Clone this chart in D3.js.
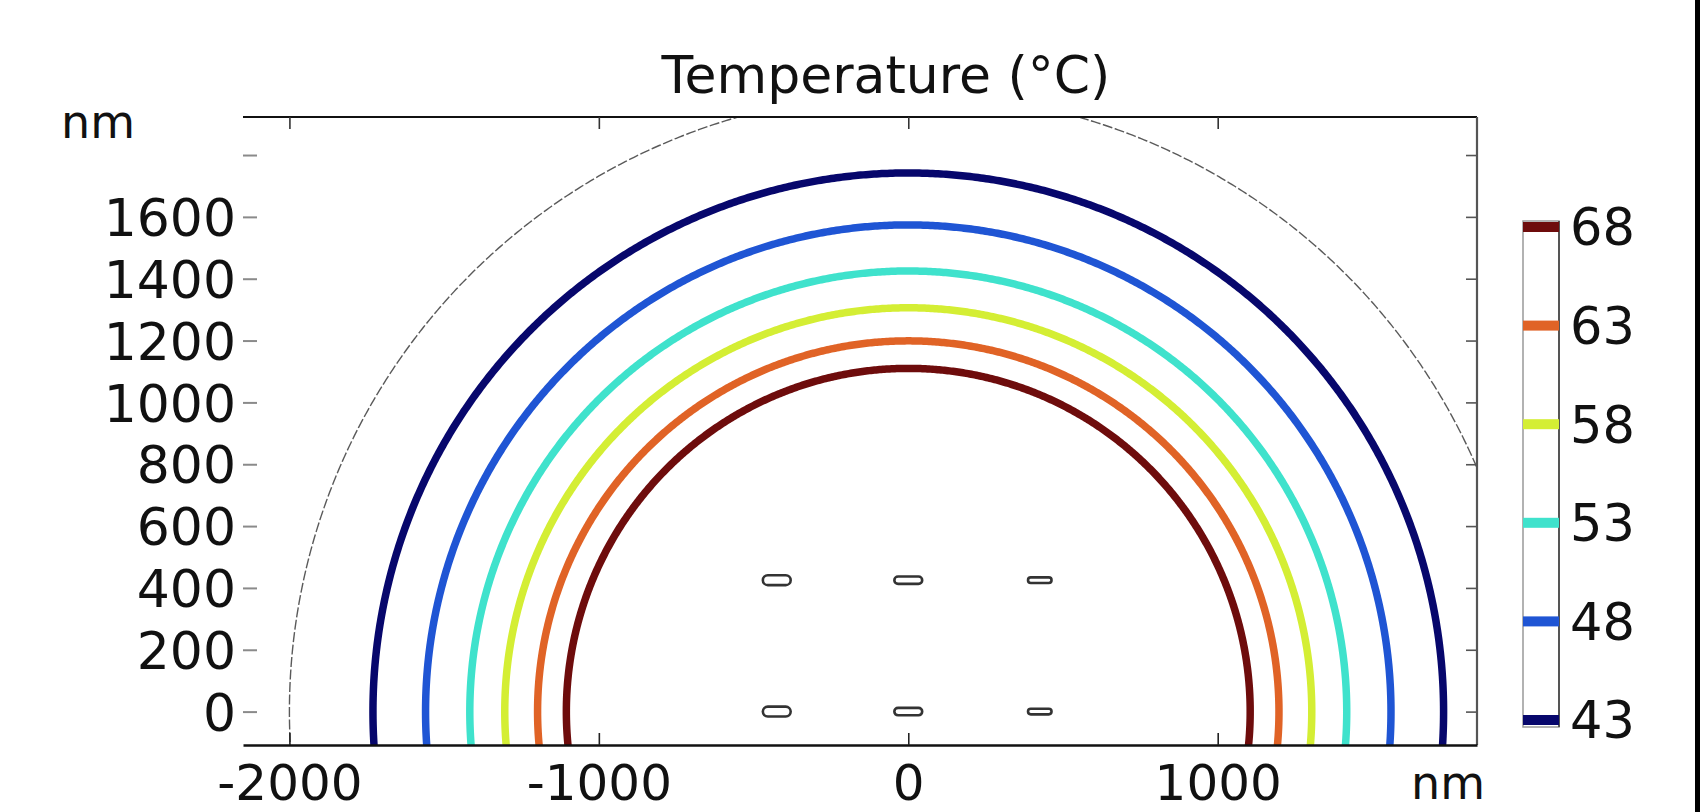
<!DOCTYPE html>
<html>
<head>
<meta charset="utf-8">
<script src="https://cdn.jsdelivr.net/npm/d3@7"></script>
<style>
  html, body { margin: 0; padding: 0; background: #fff; }
  svg text { font-family: "DejaVu Sans", sans-serif; fill: #111; }
</style>
</head>
<body>
<div id="chart"></div>
<script>
// view limits of the plot window (nm)
const xLimits = [-2150, 1838];
const yLimits = [-108, 1923];

// tick values
const xTicks = [-2000, -1000, 0, 1000];
const yTicks = [0, 200, 400, 600, 800, 1000, 1200, 1400, 1600, 1800];
const yLabelled = [0, 200, 400, 600, 800, 1000, 1200, 1400, 1600];

// contour levels (°C), their colours and radii (nm)
const levels = [43, 48, 53, 58, 63, 68];
const levelColors = ["#07076c", "#1f55d4", "#3fe2cc", "#d4ee34", "#e06326", "#6e0c0c"];
const radiusX = [1730, 1560, 1417, 1304, 1198, 1105];
const radiusY = [1742, 1574, 1425, 1306, 1199, 1110];

// outer domain boundary
const boundaryRadius = 2000;

// nanorods
const rodX = [-425, 0, 425];
const rodY = [0, 425];
const rodHalfW = [45, 45, 38];
const rodHalfH = [16, 12, 9];

const W = 1700, H = 812;
const frame = { left: 243, right: 1477, top: 117, bottom: 745 };

const svg = d3.select("#chart").append("svg")
    .attr("width", W)
    .attr("height", H);

const x = d3.scaleLinear().domain(xLimits).range([frame.left, frame.right]);
const y = d3.scaleLinear().domain(yLimits).range([frame.bottom, frame.top]);

svg.append("defs").append("clipPath")
    .attr("id", "plotClip")
    .append("rect")
    .attr("x", frame.left)
    .attr("y", frame.top)
    .attr("width", frame.right - frame.left)
    .attr("height", frame.bottom - frame.top);

const plot = svg.append("g").attr("clip-path", "url(#plotClip)");

// boundary circle (thin dashed gray)
const boundaryLine = d3.line()
    .x(t => x(boundaryRadius * Math.cos(t)))
    .y(t => y(boundaryRadius * Math.sin(t)));
const angles = d3.range(-0.2, Math.PI + 0.2, 0.005);

plot.append("path")
    .attr("d", boundaryLine(angles))
    .attr("fill", "none")
    .attr("stroke", "#5a5a5a")
    .attr("stroke-width", 1.4)
    .attr("stroke-dasharray", "10 2.5");

// temperature contours
levels.forEach((lv, i) => {
    const line = d3.line()
        .x(t => x(radiusX[i] * Math.cos(t)))
        .y(t => y(radiusY[i] * Math.sin(t)));
    plot.append("path")
        .attr("d", line(angles))
        .attr("fill", "none")
        .attr("stroke", levelColors[i])
        .attr("stroke-width", 7.5);
});

// nanorods
rodY.forEach(ry => {
    rodX.forEach((rx, j) => {
        const w = x(rx + rodHalfW[j]) - x(rx - rodHalfW[j]);
        const h = y(ry - rodHalfH[j]) - y(ry + rodHalfH[j]);
        plot.append("rect")
            .attr("x", x(rx - rodHalfW[j]))
            .attr("y", y(ry + rodHalfH[j]))
            .attr("width", w)
            .attr("height", h)
            .attr("rx", h / 2)
            .attr("fill", "#fff")
            .attr("stroke", "#333")
            .attr("stroke-width", 2.6);
    });
});

// frame lines
svg.append("line")
    .attr("x1", frame.left).attr("x2", frame.right)
    .attr("y1", frame.top).attr("y2", frame.top)
    .attr("stroke", "#111").attr("stroke-width", 2.2);
svg.append("line")
    .attr("x1", frame.right).attr("x2", frame.right)
    .attr("y1", frame.top).attr("y2", frame.bottom)
    .attr("stroke", "#555").attr("stroke-width", 2.2);

// bottom axis
const xAxis = svg.append("g")
    .attr("transform", `translate(0,${frame.bottom})`)
    .call(d3.axisBottom(x).tickValues(xTicks).tickSizeInner(-12).tickSizeOuter(0)
        .tickFormat(d => String(d)));
xAxis.select(".domain").attr("stroke", "#111").attr("stroke-width", 2.4);
xAxis.selectAll(".tick line").attr("stroke", "#222").attr("stroke-width", 1.6);
xAxis.selectAll(".tick text")
    .attr("y", 55).attr("dy", null)
    .style("font-size", "50px")
    .attr("fill", "#111");
xAxis.attr("font-family", null);

// top ticks
svg.append("g")
    .attr("transform", `translate(0,${frame.top})`)
    .call(d3.axisTop(x).tickValues(xTicks).tickSizeInner(-12).tickSizeOuter(0).tickFormat(""))
    .call(g => g.select(".domain").remove())
    .call(g => g.selectAll(".tick line").attr("stroke", "#333").attr("stroke-width", 1.6));

// right ticks
svg.append("g")
    .attr("transform", `translate(${frame.right},0)`)
    .call(d3.axisRight(y).tickValues(yTicks).tickSizeInner(-11).tickSizeOuter(0).tickFormat(""))
    .call(g => g.select(".domain").remove())
    .call(g => g.selectAll(".tick line").attr("stroke", "#555").attr("stroke-width", 1.6));

// left axis: gray tick marks inside the frame, labels outside
const yAxis = svg.append("g")
    .attr("transform", `translate(${frame.left},0)`)
    .call(d3.axisLeft(y).tickValues(yTicks).tickSizeInner(-14).tickSizeOuter(0)
        .tickFormat(d => yLabelled.includes(d) ? String(d) : ""));
yAxis.select(".domain").remove();
yAxis.selectAll(".tick line").attr("stroke", "#8a8a8a").attr("stroke-width", 2);
yAxis.selectAll(".tick text")
    .attr("x", -7)
    .attr("dy", "0.36em")
    .style("font-size", "52px")
    .attr("fill", "#111");
yAxis.attr("font-family", null);

// unit labels
svg.append("text")
    .attr("x", 135).attr("y", 138)
    .attr("text-anchor", "end")
    .style("font-size", "46px")
    .text("nm");
svg.append("text")
    .attr("x", 1448).attr("y", 799)
    .attr("text-anchor", "middle")
    .style("font-size", "46px")
    .text("nm");

// title
svg.append("text")
    .attr("x", 886).attr("y", 93)
    .attr("text-anchor", "middle")
    .style("font-size", "52px")
    .text("Temperature (°C)");

// legend
const legend = { x: 1523, w: 36, top: 221, bottom: 727 };
const ly = d3.scaleLinear().domain([43, 68]).range([720, 227]);

svg.append("rect")
    .attr("x", legend.x).attr("y", legend.top)
    .attr("width", legend.w).attr("height", legend.bottom - legend.top)
    .attr("fill", "#fff")
    .attr("stroke", "#999").attr("stroke-width", 1.5);
svg.append("line")
    .attr("x1", legend.x + legend.w).attr("x2", legend.x + legend.w)
    .attr("y1", legend.top).attr("y2", legend.bottom)
    .attr("stroke", "#555").attr("stroke-width", 2);

levels.forEach((lv, i) => {
    svg.append("rect")
        .attr("x", legend.x).attr("y", ly(lv) - 5)
        .attr("width", legend.w).attr("height", 10)
        .attr("fill", levelColors[i]);
    svg.append("text")
        .attr("x", 1570).attr("y", ly(lv))
        .attr("dy", "0.36em")
        .style("font-size", "51px")
        .text(lv);
});

// dark strip at the right edge
svg.append("rect")
    .attr("x", 1695).attr("y", 0)
    .attr("width", 5).attr("height", H)
    .attr("fill", "#000");
</script>
</body>
</html>
